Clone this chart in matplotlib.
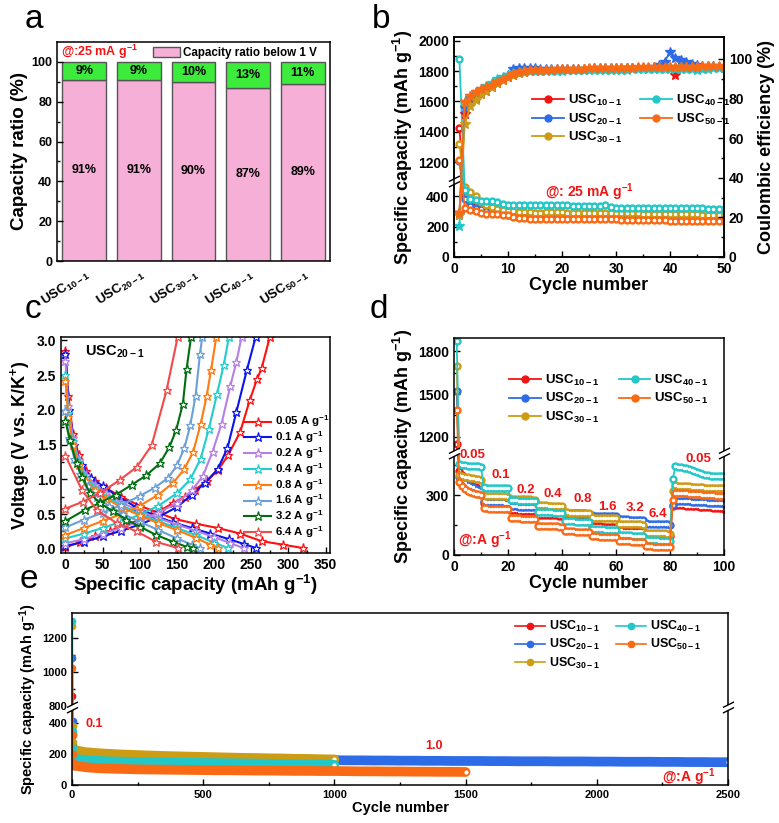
import numpy as np
import matplotlib
matplotlib.use('Agg')
import matplotlib.pyplot as plt
from matplotlib.path import Path
from matplotlib.lines import Line2D

# ---------------- style ---------------- #
plt.rcParams['font.family'] = ['Liberation Sans', 'DejaVu Sans']
plt.rcParams['font.weight'] = 'bold'
plt.rcParams['axes.labelweight'] = 'bold'
plt.rcParams['mathtext.fontset'] = 'custom'
plt.rcParams['mathtext.rm'] = 'Liberation Sans:bold'
plt.rcParams['mathtext.bf'] = 'Liberation Sans:bold'
plt.rcParams['mathtext.it'] = 'Liberation Sans:bold'
plt.rcParams['mathtext.default'] = 'rm'
plt.rcParams['xtick.direction'] = 'in'
plt.rcParams['ytick.direction'] = 'in'
plt.rcParams['axes.linewidth'] = 1.1

# ---------------- data ---------------- #
samples = [r'USC$_{10-1}$', r'USC$_{20-1}$', r'USC$_{30-1}$', r'USC$_{40-1}$', r'USC$_{50-1}$']
colors = ['#F01414', '#2E6BE6', '#CC9C14', '#22C7C7', '#FA6A14']

# (a) capacity ratio
ratio_below = [91, 91, 90, 87, 89]
ratio_above = [9, 9, 10, 13, 11]

# (b) 25 mA/g cycling, capacity and CE
cap_b = [
    [1425, 400, 350, 335, 325, 318, 312, 306, 298, 290, 284, 280, 277, 275, 273, 272, 271, 270, 270, 269,
     269, 268, 268, 268, 267, 267, 267, 267, 266, 266, 266, 266, 266, 266, 265, 265, 265, 265, 265, 265,
     265, 265, 264, 264, 264, 264, 264, 263, 263, 263],
    [1210, 380, 335, 322, 314, 306, 300, 295, 290, 280, 268, 265, 264, 263, 262, 262, 262, 262, 261, 261,
     261, 261, 261, 261, 261, 261, 261, 261, 260, 260, 260, 260, 260, 260, 260, 260, 260, 260, 260, 260,
     260, 260, 260, 259, 259, 259, 259, 259, 258, 258],
    [1320, 460, 430, 400, 365, 340, 328, 318, 310, 305, 300, 297, 295, 294, 293, 293, 294, 295, 295, 294,
     293, 292, 292, 291, 291, 290, 290, 292, 290, 289, 288, 288, 287, 287, 286, 286, 285, 285, 284, 283,
     283, 282, 282, 281, 281, 280, 279, 278, 278, 277],
    [1880, 440, 385, 375, 372, 370, 370, 362, 350, 345, 342, 340, 340, 340, 340, 340, 342, 342, 342, 342,
     340, 338, 336, 335, 335, 335, 338, 342, 330, 325, 323, 322, 322, 322, 322, 322, 322, 325, 325, 323,
     322, 322, 322, 325, 322, 320, 316, 315, 315, 315],
    [1215, 320, 310, 300, 290, 285, 283, 282, 280, 275, 265, 258, 255, 253, 252, 252, 252, 252, 252, 252,
     252, 252, 252, 252, 252, 252, 252, 252, 250, 248, 247, 246, 246, 246, 246, 246, 246, 246, 245, 240,
     240, 240, 240, 240, 238, 238, 237, 237, 237, 236],
]
ce_b = [
    [22, 72, 78, 80, 82, 84, 86, 88, 89.5, 91, 92, 93, 93.5, 94, 94, 94, 94.2, 94.3, 94.3, 94.4,
     94.5, 94.5, 94.6, 94.6, 94.7, 94.8, 94.8, 94.9, 95, 95, 95.1, 95.2, 95.2, 95.3, 95.3, 95.4, 95.5, 95.5,
     95.6, 95.6, 92, 95.6, 95.7, 95.7, 95.8, 95.8, 95.8, 95.9, 95.9, 96],
    [21, 75, 80, 82, 84, 86, 87.5, 89, 90.5, 92, 95, 95.2, 95.3, 95.3, 95.2, 95.1, 95, 95, 94.9, 94.9,
     94.9, 95, 95, 95.1, 95.1, 95.2, 95.2, 95.3, 95.3, 95.4, 95.4, 95.5, 95.5, 95.5, 95.6, 95.6, 96, 97,
     98.5, 103.5, 100.5, 99.5, 98.5, 97.5, 96.8, 96.5, 96.3, 96.2, 96.1, 96],
    [21, 67, 76, 79, 82, 84, 86, 88, 89.5, 91, 92, 93, 93.5, 93.8, 94, 94, 94.1, 94.2, 94.3, 94.4,
     94.5, 94.5, 94.6, 94.7, 94.8, 94.9, 95, 95, 95.1, 95.1, 95.2, 95.3, 95.3, 95.4, 95.4, 95.5, 95.5, 95.6,
     95.6, 95.7, 95.7, 95.7, 95.8, 95.8, 95.9, 95.9, 96, 96, 96, 96.1],
    [15.5, 78, 81, 83, 85, 86.5, 88, 90, 91, 92, 93, 93.5, 93.6, 93.7, 93.8, 93.8, 93.9, 94, 94, 94,
     94.1, 94.1, 94.2, 94.2, 94.3, 94.3, 94.4, 94.4, 94.5, 94.5, 94.6, 94.6, 94.7, 94.7, 94.8, 94.8, 94.9,
     94.9, 95, 95, 95, 95, 95, 94.8, 94.5, 94.8, 95, 95.2, 95.3, 95.4],
    [22, 78, 81, 83, 85, 86, 87, 88.5, 90, 91, 92.5, 93.5, 94, 94.2, 94.3, 94.4, 94.5, 94.6, 94.7, 94.8,
     94.9, 95, 95, 95.1, 95.2, 95.2, 95.3, 95.4, 95.4, 95.5, 95.5, 95.6, 95.6, 95.7, 95.7, 95.8, 95.8, 95.9,
     95.9, 96, 96, 96, 96.1, 96.1, 96.1, 96.2, 96.2, 96.2, 96.3, 96.3],
]

# (c) GCD curves of USC20-1
rates = ['0.05', '0.1', '0.2', '0.4', '0.8', '1.6', '3.2', '6.4']
rate_colors = ['#FF1010', '#0A14F0', '#B57FE6', '#22CCCC', '#FF7A10', '#6A9FD8', '#006E10', '#F04A4A']
chg_x = [
    [0, 20, 40, 60, 80, 100, 115, 129, 145, 161, 174, 190, 205, 219, 235, 248, 258, 264, 275],
    [0, 25, 50, 75, 100, 125, 150, 170, 188, 205, 218, 230, 244, 256],
    [0, 25, 50, 75, 100, 125, 150, 170, 185, 198, 210, 222, 230, 237],
    [0, 25, 50, 75, 100, 125, 150, 168, 182, 193, 204, 213, 220],
    [0, 25, 50, 75, 100, 125, 145, 160, 172, 182, 190, 196, 203],
    [0, 25, 50, 75, 100, 120, 138, 150, 160, 168, 175, 181, 184],
    [0, 26, 46, 68, 89, 109, 127, 140, 149, 158, 163, 169],
    [0, 24, 46, 73, 96, 116, 136, 151],
]
chg_y = [
    [0.02, 0.10, 0.18, 0.26, 0.34, 0.42, 0.49, 0.56, 0.66, 0.75, 0.85, 0.97, 1.13, 1.35, 1.68, 2.14, 2.45, 2.60, 3.05],
    [0.04, 0.10, 0.18, 0.26, 0.35, 0.46, 0.60, 0.78, 0.95, 1.15, 1.45, 1.97, 2.57, 3.05],
    [0.08, 0.14, 0.22, 0.30, 0.40, 0.52, 0.66, 0.84, 1.05, 1.40, 1.80, 2.35, 2.69, 3.05],
    [0.15, 0.22, 0.30, 0.39, 0.49, 0.62, 0.80, 1.00, 1.30, 1.73, 2.23, 2.65, 3.05],
    [0.20, 0.30, 0.40, 0.50, 0.62, 0.78, 0.95, 1.15, 1.40, 1.80, 2.20, 2.58, 3.05],
    [0.31, 0.42, 0.52, 0.63, 0.76, 0.88, 1.02, 1.20, 1.45, 1.78, 2.20, 2.80, 3.05],
    [0.40, 0.56, 0.66, 0.78, 0.92, 1.06, 1.23, 1.47, 1.71, 2.09, 2.59, 3.05],
    [0.58, 0.68, 0.80, 0.99, 1.18, 1.49, 2.28, 3.05],
]
dis_x = [
    [0, 4, 10, 18, 28, 40, 55, 75, 100, 125, 147, 176, 205, 235, 264, 293, 320],
    [0, 5, 12, 22, 35, 50, 70, 95, 120, 145, 170, 195, 220, 240, 257],
    [0, 4, 10, 18, 28, 40, 55, 75, 100, 125, 150, 175, 200, 222, 240],
    [0, 4, 10, 18, 28, 40, 55, 75, 100, 125, 150, 175, 200, 219],
    [0, 4, 10, 18, 28, 40, 55, 75, 100, 125, 150, 175, 195, 205],
    [0, 5, 12, 20, 30, 42, 58, 78, 100, 125, 150, 170, 181],
    [0, 6, 15, 22, 33, 46, 64, 82, 100, 122, 145, 163, 171],
    [0, 22, 42, 69, 96, 122, 152],
]
dis_y = [
    [2.85, 2.2, 1.65, 1.35, 1.12, 0.98, 0.87, 0.75, 0.62, 0.52, 0.43, 0.36, 0.30, 0.22, 0.11, 0.06, 0.01],
    [2.80, 2.0, 1.5, 1.2, 1.02, 0.9, 0.76, 0.6, 0.48, 0.38, 0.30, 0.22, 0.14, 0.07, 0.01],
    [2.70, 2.05, 1.6, 1.28, 1.06, 0.92, 0.8, 0.67, 0.54, 0.44, 0.35, 0.26, 0.17, 0.08, 0.01],
    [2.50, 1.95, 1.55, 1.25, 1.02, 0.88, 0.75, 0.63, 0.5, 0.4, 0.3, 0.2, 0.09, 0.01],
    [2.42, 1.9, 1.5, 1.2, 0.98, 0.84, 0.72, 0.6, 0.48, 0.37, 0.27, 0.16, 0.06, 0.01],
    [1.98, 1.6, 1.3, 1.08, 0.9, 0.75, 0.62, 0.5, 0.39, 0.27, 0.15, 0.06, 0.01],
    [1.84, 1.56, 1.23, 1.04, 0.80, 0.66, 0.54, 0.42, 0.32, 0.20, 0.10, 0.03, 0.01],
    [1.34, 0.85, 0.56, 0.37, 0.25, 0.10, 0.01],
]

# (d) rate capability
cap_d = [
    [1150, 420, 400, 380, 365, 355, 345, 338, 332, 326,
     262, 258, 255, 253, 252, 251, 250, 249, 248, 247,
     226, 224, 223, 222, 221, 221, 220, 220, 219, 219,
     202, 201, 200, 200, 199, 199, 198, 198, 197, 197,
     180, 179, 178, 178, 177, 177, 176, 176, 175, 175,
     145, 144, 143, 143, 142, 142, 141, 141, 140, 140,
     124, 123, 122, 122, 121, 121, 120, 120, 119, 119,
     102, 101, 100, 100, 99, 99, 98, 98, 97, 96,
     245, 252, 250, 249, 248, 247, 246, 245, 244, 243, 242, 241, 240, 239, 238, 237, 236, 235, 234, 232],
    [1520, 390, 375, 362, 352, 344, 338, 332, 327, 322,
     270, 267, 266, 265, 264, 264, 263, 263, 262, 262,
     245, 244, 243, 242, 242, 241, 241, 240, 240, 239,
     228, 227, 226, 226, 225, 225, 224, 224, 223, 223,
     212, 211, 210, 210, 209, 209, 208, 208, 207, 207,
     198, 197, 197, 196, 196, 195, 195, 194, 194, 193,
     180, 179, 178, 178, 177, 177, 176, 176, 175, 175,
     158, 157, 156, 155, 155, 154, 154, 153, 153, 152,
     250, 272, 271, 270, 269, 268, 268, 267, 266, 265, 265, 264, 263, 262, 262, 261, 260, 259, 258, 257],
    [1700, 400, 395, 390, 388, 385, 383, 380, 378, 375,
     298, 297, 296, 295, 295, 294, 294, 293, 293, 292,
     282, 281, 280, 280, 279, 279, 278, 278, 277, 277,
     250, 249, 248, 248, 247, 247, 246, 246, 245, 245,
     214, 213, 212, 212, 211, 211, 210, 210, 209, 209,
     188, 187, 187, 186, 186, 185, 185, 184, 184, 183,
     157, 156, 156, 155, 155, 154, 154, 153, 153, 152,
     112, 111, 110, 110, 109, 109, 108, 108, 107, 106,
     318, 348, 347, 346, 345, 344, 343, 342, 341, 340, 339, 338, 337, 336, 336, 335, 335, 334, 334, 333],
    [1870, 455, 450, 448, 446, 445, 445, 444, 443, 440,
     338, 336, 335, 334, 334, 335, 335, 336, 336, 335,
     275, 274, 273, 272, 272, 272, 271, 271, 270, 270,
     216, 215, 214, 214, 213, 213, 212, 212, 211, 211,
     170, 169, 168, 168, 167, 167, 166, 166, 165, 165,
     130, 129, 129, 128, 128, 127, 127, 126, 126, 125,
     100, 99, 99, 98, 98, 97, 97, 96, 96, 95,
     75, 74, 74, 73, 73, 72, 72, 71, 71, 70,
     378, 444, 442, 440, 437, 434, 430, 426, 421, 416, 411, 406, 402, 398, 395, 393, 393, 394, 395, 395],
    [1390, 367, 345, 330, 320, 314, 310, 306, 303, 300,
     235, 233, 232, 231, 231, 230, 230, 229, 229, 228,
     185, 184, 183, 183, 182, 182, 181, 181, 180, 180,
     147, 146, 145, 145, 144, 144, 143, 143, 142, 142,
     120, 119, 118, 118, 117, 117, 116, 116, 115, 115,
     94, 93, 93, 92, 92, 91, 91, 90, 90, 89,
     70, 69, 69, 68, 68, 67, 67, 66, 66, 65,
     45, 44, 43, 42, 42, 41, 41, 40, 40, 38,
     275, 312, 311, 310, 309, 308, 307, 306, 305, 304, 303, 302, 301, 300, 299, 298, 297, 296, 295, 293],
]
rate_labels_d = ['0.05', '0.1', '0.2', '0.4', '0.8', '1.6', '3.2', '6.4', '0.05']
rate_lab_x = [7.0, 17.4, 26.6, 36.5, 47.6, 56.8, 66.9, 75.5, 90.4]
rate_lab_y = [500, 400, 325, 305, 279, 241, 233, 205, 480]

# (e) long cycling at 1.0 A/g (every 50th cycle after the 0.1 A/g activation)
cyc_e = [
    [1, 2, 3, 5, 10] + list(range(50, 1001, 50)),
    [1, 2, 3, 5, 10] + list(range(50, 2501, 50)),
    [1, 2, 3, 5, 10] + list(range(50, 1001, 50)),
    [1, 2, 3, 5, 10] + list(range(50, 1001, 50)),
    [1, 2, 3, 5, 10] + list(range(50, 1501, 50)),
]
cap_e = [
    [860, 330, 230, 200, 190, 182, 178, 175, 173, 171, 170, 169, 168, 167, 166, 165, 164, 163, 162, 161,
     160, 159, 158, 157, 156],
    [1080, 410, 260, 210, 190, 182, 180, 178, 176, 174, 173, 172, 171, 170, 169, 168, 167, 166, 165, 164,
     163, 162, 161, 160, 160, 159, 159, 158, 158, 157, 157, 156, 156, 155, 155, 155, 154, 154, 153, 153,
     153, 152, 152, 152, 151, 151, 150, 150, 150, 149, 149, 148, 148, 147, 147],
    [1270, 380, 280, 240, 225, 212, 205, 200, 196, 193, 190, 187, 185, 183, 181, 179, 177, 175, 174, 172,
     171, 169, 168, 166, 165],
    [1300, 350, 240, 190, 170, 160, 155, 152, 150, 148, 147, 145, 144, 143, 142, 141, 140, 139, 138, 137,
     135, 134, 133, 132, 130],
    [1020, 320, 200, 150, 125, 115, 108, 105, 103, 101, 100, 99, 98, 97, 96, 95, 95, 94, 93, 93,
     92, 91, 91, 90, 90, 89, 88, 88, 87, 87, 86, 86, 85, 85, 84],
]


def make_break(lo, hi, r):
    """piecewise scale: [0, lo] kept, (lo, hi) cut out, [hi, ...] compressed by r"""
    def fwd(y):
        y = np.asarray(y, float)
        return np.where(y <= lo, y, np.where(y >= hi, lo + (y - hi) * r, lo))

    def inv(t):
        t = np.asarray(t, float)
        return np.where(t <= lo, t, hi + (t - lo) / r)
    return fwd, inv


brk_mk = Path([(-1, -1.0), (1, 0.0), (-1, 0.0), (1, 1.0)],
              [Path.MOVETO, Path.LINETO, Path.MOVETO, Path.LINETO])
gap_mk = Path([(-1, -0.5), (1, 0.5)], [Path.MOVETO, Path.LINETO])


def add_break(ax, yval, sides=(0, 1)):
    tr = ax.get_yaxis_transform()
    for xs in sides:
        ax.plot([xs], [yval], transform=tr, marker=gap_mk, ms=8, mec='white', mfc='none',
                mew=3.5, clip_on=False, zorder=20)
        ax.plot([xs], [yval], transform=tr, marker=brk_mk, ms=8, mec='black', mfc='none',
                mew=1.0, clip_on=False, zorder=21)


def ball_plot(ax, x, y, c, label=None, ms=5, lw=1.3):
    ax.plot(x, y, '-o', color=c, mec=c, mfc=c, ms=ms, lw=lw, label=label)
    ax.plot(x, y, 'o', color='white', ms=ms * 0.3, lw=0)


fig = plt.figure(figsize=(7.79, 8.23), dpi=100)
W, H = 779.0, 823.0


def rect(x0, y0, x1, y1):
    return [x0 / W, 1 - y1 / H, (x1 - x0) / W, (y1 - y0) / H]


# ---------------- (a) ---------------- #
axa = fig.add_axes(rect(57, 42, 330, 261))
pos = np.arange(len(samples))
axa.bar(pos, ratio_below, width=0.8, color='#F6B0D8', edgecolor='#555555', lw=1.0,
        label='Capacity ratio below 1 V')
axa.bar(pos, ratio_above, width=0.8, bottom=ratio_below, color='#3CEB3C', edgecolor='#555555', lw=1.0)
for p, lo, up in zip(pos, ratio_below, ratio_above):
    axa.text(p, lo / 2, f'{lo}%', ha='center', va='center', fontsize=9)
    axa.text(p, lo + up / 2, f'{up}%', ha='center', va='center', fontsize=9)
axa.set_xlim(-0.5, len(samples) - 0.5)
axa.set_ylim(0, 110)
axa.set_yticks([0, 20, 40, 60, 80, 100])
axa.set_yticks([10, 30, 50, 70, 90], minor=True)
axa.set_xticks(pos)
axa.set_xticklabels(samples, rotation=33, ha='right', rotation_mode='anchor', fontsize=9.5)
axa.tick_params(axis='x', length=0, pad=4)
axa.tick_params(axis='y', labelsize=9, length=4, width=1)
axa.tick_params(axis='y', which='minor', length=2, width=1)
axa.set_ylabel('Capacity ratio (%)', fontsize=13.5, labelpad=2)
axa.text(-0.43, 105, r'@:25 mA g$^{-1}$', color='#F01414', fontsize=9, ha='left', va='center')
axa.legend(loc='upper left', bbox_to_anchor=(0.335, 1.0), frameon=False, fontsize=8.4,
           handlelength=2.3, handleheight=1.0, handletextpad=0.3, borderaxespad=0.2, borderpad=0.2)

# ---------------- (b) ---------------- #
axb = fig.add_axes(rect(454, 37, 724, 257))
axb.set_yscale('function', functions=make_break(500, 1075, 1.0))
cyc_b = np.arange(1, len(cap_b[0]) + 1)
for cap, c, lab in zip(cap_b, colors, samples):
    ball_plot(axb, cyc_b, cap, c, label=lab, ms=5)
axb.set_xlim(0, 50)
axb.set_ylim(0, 2025)
axb.set_yticks([0, 200, 400, 1200, 1400, 1600, 1800, 2000])
axb.set_yticks([100, 300, 1300, 1500, 1700, 1900], minor=True)
axb.set_xticks([0, 10, 20, 30, 40, 50])
axb.set_xticks([5, 15, 25, 35, 45], minor=True)
axb.tick_params(labelsize=10, length=4, width=1)
axb.tick_params(which='minor', length=2, width=1)
axb.set_xlabel('Cycle number', fontsize=13, labelpad=1)
axb.set_ylabel(r'Specific capacity (mAh g$^{-1}$)', fontsize=13, labelpad=2)
axb.text(25, 430, r'@: 25 mA g$^{-1}$', color='#F01414', fontsize=10, ha='center', va='center')
axb.legend(loc='upper left', bbox_to_anchor=(0.29, 0.745), ncol=2, frameon=False, fontsize=9.5,
           handlelength=2.4, handletextpad=0.3, columnspacing=1.4, labelspacing=0.25,
           borderaxespad=0, borderpad=0)
axr = axb.twinx()
for ce, c in zip(ce_b, colors):
    axr.plot(cyc_b, ce, '-*', color=c, ms=7, lw=1.3)
axr.set_ylim(0, 111)
axr.set_yticks([0, 20, 40, 60, 80, 100])
axr.set_yticks([10, 30, 50, 70, 90], minor=True)
axr.tick_params(labelsize=10, length=4, width=1)
axr.tick_params(which='minor', length=2, width=1)
axr.set_ylabel('Coulombic efficiency (%)', fontsize=13, labelpad=4)
add_break(axb, 500, sides=(0,))

# ---------------- (c) ---------------- #
axc = fig.add_axes(rect(61, 337, 330, 553))
for i in range(len(rates)):
    c = rate_colors[i]
    axc.plot(chg_x[i], chg_y[i], '-*', color=c, ms=6.5, mfc='white', mec=c, mew=0.9, lw=1.5,
             label=rates[i] + r' A g$^{-1}$')
    axc.plot(dis_x[i], dis_y[i], '-*', color=c, ms=6.5, mfc='white', mec=c, mew=0.9, lw=1.5)
axc.set_xlim(-6, 356)
axc.set_ylim(-0.06, 3.05)
axc.set_xticks([0, 50, 100, 150, 200, 250, 300, 350])
axc.set_yticks([0, 0.5, 1.0, 1.5, 2.0, 2.5, 3.0])
axc.set_xticks([25, 75, 125, 175, 225, 275, 325], minor=True)
axc.set_yticks([0.25, 0.75, 1.25, 1.75, 2.25, 2.75], minor=True)
axc.yaxis.set_major_formatter(matplotlib.ticker.FormatStrFormatter('%.1f'))
axc.tick_params(labelsize=10, length=4, width=1)
axc.tick_params(which='minor', length=2, width=1)
axc.set_xlabel(r'Specific capacity (mAh g$^{-1}$)', fontsize=13.5, labelpad=1)
axc.set_ylabel(r'Voltage (V vs. K/K$^{+}$)', fontsize=13, labelpad=3)
axc.text(0.09, 0.93, r'USC$_{20-1}$', transform=axc.transAxes, fontsize=10.5, ha='left', va='center')
axc.legend(loc='upper left', bbox_to_anchor=(0.68, 0.645), frameon=False, fontsize=8.2,
           handlelength=2.4, handleheight=0.6, handletextpad=0.3, labelspacing=0.0,
           borderaxespad=0, borderpad=0)

# ---------------- (d) ---------------- #
axd = fig.add_axes(rect(454, 338, 724, 555))
axd.set_yscale('function', functions=make_break(508, 1084, 0.714))
cyc_d = np.arange(1, len(cap_d[0]) + 1)
for cap, c, lab in zip(cap_d, colors, samples):
    ball_plot(axd, cyc_d, cap, c, label=lab, ms=5)
for t, x, y in zip(rate_labels_d, rate_lab_x, rate_lab_y):
    axd.text(x, y, t, color='#F01414', fontsize=9.5, ha='center', va='center')
axd.text(11.4, 75, r'@:A g$^{-1}$', color='#F01414', fontsize=10, ha='center', va='center')
axd.set_xlim(0, 100)
axd.set_ylim(0, 1893)
axd.set_yticks([0, 300, 1200, 1500, 1800])
axd.set_yticks([150, 450, 1350, 1650], minor=True)
axd.set_xticks([0, 20, 40, 60, 80, 100])
axd.set_xticks([10, 30, 50, 70, 90], minor=True)
axd.tick_params(labelsize=10, length=4, width=1)
axd.tick_params(which='minor', length=2, width=1)
axd.set_xlabel('Cycle number', fontsize=13, labelpad=1)
axd.set_ylabel(r'Specific capacity (mAh g$^{-1}$)', fontsize=13, labelpad=2)
axd.legend(loc='upper left', bbox_to_anchor=(0.205, 0.84), ncol=2, frameon=False, fontsize=9.5,
           handlelength=2.4, handletextpad=0.3, columnspacing=1.5, labelspacing=0.25,
           borderaxespad=0, borderpad=0)
add_break(axd, 508)

# ---------------- (e) ---------------- #
axe = fig.add_axes(rect(72, 613, 728, 785))
axe.set_yscale('function', functions=make_break(500, 790, 1.1))
for x, y, c in zip(cyc_e, cap_e, colors):
    axe.plot(x, y, '-', color=c, lw=1.2)
    axe.plot(x[4:], y[4:], '-', color=c, lw=7, solid_capstyle='round')
    axe.plot(x[:5], y[:5], 'o', color=c, ms=4.5)
    axe.plot(x[-1:], y[-1:], 'o', color='white', ms=2)
handles_e = [Line2D([], [], color=c, marker='o', ms=4.5, lw=1.2) for c in colors]
axe.text(86, 396, '0.1', color='#F01414', fontsize=9, ha='center', va='center')
axe.text(1380, 252, '1.0', color='#F01414', fontsize=9, ha='center', va='center')
axe.text(2350, 53, r'@:A g$^{-1}$', color='#F01414', fontsize=10, ha='center', va='center')
axe.set_xlim(0, 2500)
axe.set_ylim(0, 1344)
axe.set_yticks([0, 200, 400, 800, 1000, 1200])
axe.set_yticks([100, 300, 900, 1100], minor=True)
axe.set_xticks([0, 500, 1000, 1500, 2000, 2500])
axe.set_xticks([250, 750, 1250, 1750, 2250], minor=True)
axe.tick_params(labelsize=8, length=4, width=1)
axe.tick_params(which='minor', length=2, width=1)
axe.set_xlabel('Cycle number', fontsize=10.5, labelpad=1)
axe.set_ylabel(r'Specific capacity (mAh g$^{-1}$)', fontsize=10.5, labelpad=2)
axe.legend(handles_e, samples, loc='upper left', bbox_to_anchor=(0.675, 0.965), ncol=2,
           frameon=False, fontsize=9, handlelength=2.4, handletextpad=0.3, columnspacing=1.3,
           labelspacing=0.25, borderaxespad=0, borderpad=0)
add_break(axe, 500)

# ---------------- panel letters ---------------- #
for lt, x, y in [('a', 25, 28), ('b', 372, 28), ('c', 25, 318), ('d', 370, 318), ('e', 20, 588)]:
    fig.text(x / W, 1 - y / H, lt, fontsize=24, fontweight='normal', ha='left', va='baseline')

fig.savefig('out.png', dpi=100)
